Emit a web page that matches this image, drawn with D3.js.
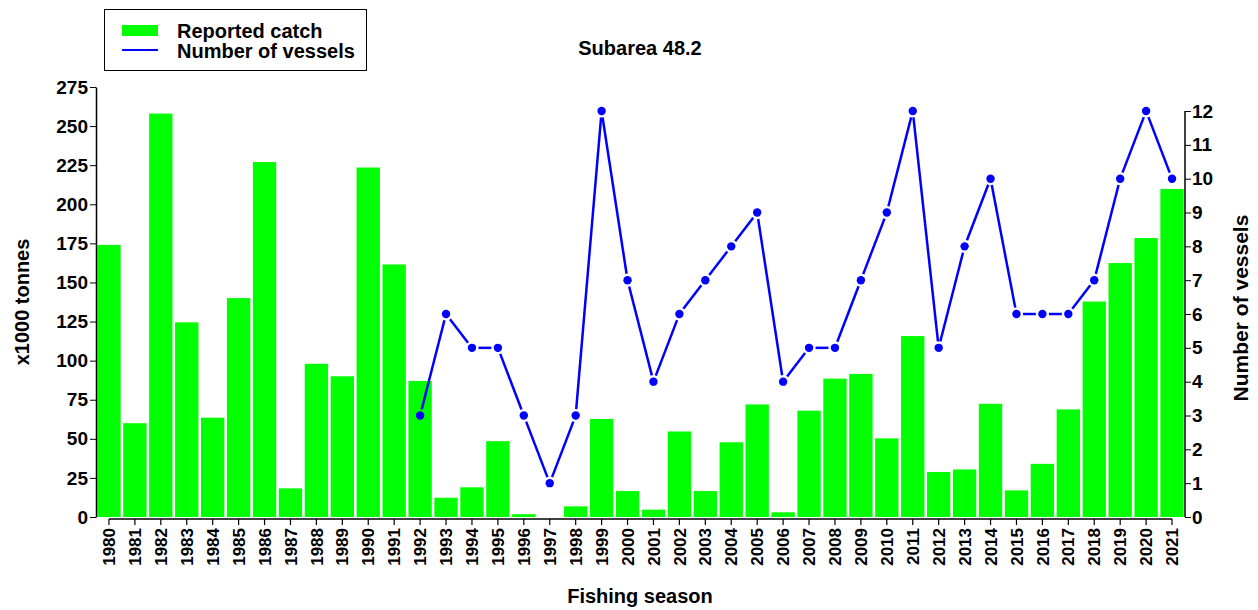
<!DOCTYPE html>
<meta charset="utf-8">
<style>
body { margin: 0; background: #fff; }
svg text { font-family: "Liberation Sans", Arial, sans-serif; font-weight: bold; fill: #000; }
.axis text { font-family: "Liberation Sans", Arial, sans-serif; font-weight: bold; }
</style>
<body>
<script src="https://cdnjs.cloudflare.com/ajax/libs/d3/7.8.5/d3.min.js"></script>
<script>

// data
var years = d3.range(1980, 2022);
var catchK = [174, 60, 258, 124.5, 63.5, 140, 227, 18.3, 98, 90, 223.5, 161.5, 87, 12.3,
  19, 48.5, 1.8, 0, 6.8, 62.7, 16.6, 4.7, 54.7, 16.6, 47.8, 72, 3, 68, 88.5, 91.5,
  50.3, 115.7, 28.8, 30.4, 72.4, 17, 34, 68.8, 137.8, 162.4, 178.4, 209.8];
var vesselYears = d3.range(1992, 2022);
var vessels = [3, 6, 5, 5, 3, 1, 3, 12, 7, 4, 6, 7, 8, 9, 4, 5, 5, 7, 9, 12, 5, 8, 10, 6, 6, 6, 7, 10, 12, 10];
var leftTicks = d3.range(0, 276, 25);
var rightTicks = d3.range(0, 13, 1);

var width = 1258, height = 610;
var plotLeft = 96, plotRight = 1185, plotTop = 87, plotBottom = 517;

var svg = d3.select("body").append("svg")
    .attr("width", width)
    .attr("height", height);

//scales
var x = d3.scaleBand()
    .domain(years)
    .range([plotLeft, plotRight])
    .paddingInner(0.1)
    .paddingOuter(0.05);

var yL = d3.scaleLinear().domain([0, 275]).range([plotBottom, plotTop]);
var yR = d3.scaleLinear().domain([0, 12.71]).range([plotBottom, plotTop]);

// bars
svg.append("g")
  .selectAll("rect")
  .data(years)
  .enter().append("rect")
    .attr("x", d => x(d))
    .attr("width", x.bandwidth())
    .attr("y", (d, i) => yL(catchK[i]))
    .attr("height", (d, i) => plotBottom - yL(catchK[i]))
    .style("fill", "#00ff00");

// line of vessels: segments stop short of each point (like type "b")
var pts = vesselYears.map((yr, i) => [x(yr) + x.bandwidth() / 2, yR(vessels[i])]);
var gap = 6.5;
var segs = d3.pairs(pts).map(function(p) {
  var dx = p[1][0] - p[0][0], dy = p[1][1] - p[0][1];
  var len = Math.sqrt(dx * dx + dy * dy);
  var ux = dx / len, uy = dy / len;
  return [[p[0][0] + ux * gap, p[0][1] + uy * gap], [p[1][0] - ux * gap, p[1][1] - uy * gap]];
});
svg.append("g").selectAll("line")
  .data(segs).enter().append("line")
    .attr("x1", d => d[0][0]).attr("y1", d => d[0][1])
    .attr("x2", d => d[1][0]).attr("y2", d => d[1][1])
    .style("stroke", "#0000ff")
    .style("stroke-width", 2.5);

svg.append("g").selectAll("circle")
  .data(pts).enter().append("circle")
    .attr("cx", d => d[0]).attr("cy", d => d[1])
    .attr("r", 4.2)
    .style("fill", "#0000ff");

// axes
var gx = svg.append("g")
    .attr("class", "axis")
    .attr("transform", "translate(0," + (plotBottom + 2) + ")")
    .call(d3.axisBottom(x).tickSize(6).tickSizeOuter(0));
var x0 = x(years[0]) + x.bandwidth() / 2,
    x1 = x(years[years.length - 1]) + x.bandwidth() / 2;
gx.select(".domain").attr("d", "M" + x0 + ",0H" + x1).style("stroke-width", 1.5);
gx.selectAll(".tick line").style("stroke-width", 1.2);
gx.selectAll("text")
    .attr("transform", "rotate(-90)")
    .attr("x", -9)
    .attr("y", 0)
    .attr("dy", "0.36em")
    .style("text-anchor", "end")
    .style("font-size", "17px");

var gl = svg.append("g")
    .attr("class", "axis")
    .attr("transform", "translate(" + plotLeft + ",0)")
    .call(d3.axisLeft(yL).tickValues(leftTicks).tickSize(6).tickSizeOuter(0));
gl.selectAll("text").style("font-size", "19px").attr("x", -8);
gl.select(".domain").style("stroke-width", 1.5);

var gr = svg.append("g")
    .attr("class", "axis")
    .attr("transform", "translate(" + plotRight + ",0)")
    .call(d3.axisRight(yR).tickValues(rightTicks).tickSize(6).tickSizeOuter(0));
gr.selectAll("text").style("font-size", "19px").attr("x", 7);
gr.select(".domain").attr("d", "M0," + yR(12) + "V" + yR(0)).style("stroke-width", 1.5);

// titles
svg.append("text")
    .attr("x", 640).attr("y", 55)
    .style("text-anchor", "middle")
    .style("font-size", "20px")
    .text("Subarea 48.2");

svg.append("text")
    .attr("x", 640).attr("y", 603)
    .style("text-anchor", "middle")
    .style("font-size", "20px")
    .text("Fishing season");

svg.append("text")
    .attr("transform", "translate(29,302) rotate(-90)")
    .style("text-anchor", "middle")
    .style("font-size", "20px")
    .text("x1000 tonnes");

svg.append("text")
    .attr("transform", "translate(1248,308) rotate(-90)")
    .style("text-anchor", "middle")
    .style("font-size", "21px")
    .text("Number of vessels");

// legend
var lg = svg.append("g");
lg.append("rect")
    .attr("x", 104.5).attr("y", 9.5)
    .attr("width", 262).attr("height", 61)
    .style("fill", "#fff")
    .style("stroke", "#000");
lg.append("rect")
    .attr("x", 122).attr("y", 25)
    .attr("width", 36).attr("height", 11)
    .style("fill", "#00ff00");
lg.append("line")
    .attr("x1", 122).attr("x2", 158)
    .attr("y1", 50).attr("y2", 50)
    .style("stroke", "#0000ff")
    .style("stroke-width", 2);
lg.append("text").attr("x", 177).attr("y", 38).style("font-size", "20px").text("Reported catch");
lg.append("text").attr("x", 177).attr("y", 57.5).style("font-size", "20px").text("Number of vessels");

</script>
</body>
